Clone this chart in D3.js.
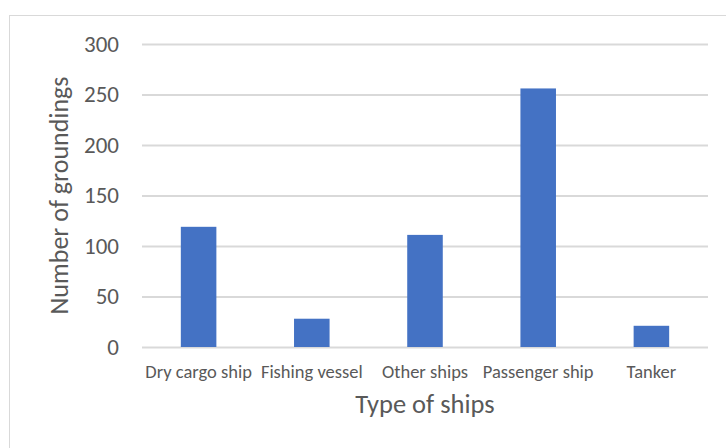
<!DOCTYPE html>
<html>
<head>
<meta charset="utf-8">
<script src="https://cdn.jsdelivr.net/npm/d3@7"></script>
<style>
  html, body { margin: 0; padding: 0; background: #fff; }
  svg { display: block; }
  svg text { font-family: Carlito, Lato, "Open Sans", sans-serif; }
</style>
</head>
<body>
<svg id="chart" width="726" height="448"></svg>
<script>
// Groundings by ship type
const categories = ["Dry cargo ship", "Fishing vessel", "Other ships", "Passenger ship", "Tanker"];
const groundings = [119, 28, 111, 256, 21];
const yTicks = [0, 50, 100, 150, 200, 250, 300];
const xTitle = "Type of ships";
const yTitle = "Number of groundings";

const svg = d3.select("#chart");
const W = 726, H = 448;
const plot = { left: 142, right: 708, top: 44, bottom: 347 };
const textColor = "#595959";
const gridColor = "#d9d9d9";
const barColor = "#4472C4";

// chart frame
svg.append("rect")
  .attr("x", 9.5).attr("y", 15.5)
  .attr("width", W + 10).attr("height", H + 10)
  .attr("fill", "#fff").attr("stroke", gridColor).attr("stroke-width", 1);

const x = d3.scaleBand()
  .domain(categories)
  .range([plot.left, plot.right])
  .paddingInner(0.686)
  .paddingOuter(0.343);

const y = d3.scaleLinear()
  .domain([0, 300])
  .range([plot.bottom, plot.top]);

// gridlines and value labels
const yAxis = d3.axisLeft(y)
  .tickValues(yTicks)
  .tickSize(-(plot.right - plot.left))
  .tickPadding(23);

const gy = svg.append("g")
  .attr("transform", `translate(${plot.left},0)`)
  .call(yAxis)
  .attr("font-family", null);
gy.select(".domain").remove();
gy.selectAll(".tick line").attr("stroke", gridColor).attr("stroke-width", 2);
gy.selectAll(".tick text")
  .attr("fill", textColor)
  .style("font-size", "23px");

// bars
svg.append("g")
  .selectAll("rect")
  .data(categories)
  .join("rect")
  .attr("x", d => x(d))
  .attr("width", x.bandwidth())
  .attr("y", (d, i) => y(groundings[i]))
  .attr("height", (d, i) => y(0) - y(groundings[i]))
  .attr("fill", barColor);

// category labels
const xAxis = d3.axisBottom(x).tickSize(0).tickPadding(18);
const gx = svg.append("g")
  .attr("transform", `translate(0,${plot.bottom})`)
  .call(xAxis)
  .attr("font-family", null);
gx.select(".domain").remove();
gx.selectAll(".tick text")
  .attr("fill", textColor)
  .style("font-size", "18.5px");

// axis titles
svg.append("text")
  .attr("x", (plot.left + plot.right) / 2)
  .attr("y", 413)
  .attr("text-anchor", "middle")
  .attr("fill", textColor)
  .style("font-size", "26.5px")
  .text(xTitle);

svg.append("text")
  .attr("transform", `translate(68,${(plot.top + plot.bottom) / 2}) rotate(-90)`)
  .attr("text-anchor", "middle")
  .attr("fill", textColor)
  .style("font-size", "26px")
  .text(yTitle);
</script>
</body>
</html>
